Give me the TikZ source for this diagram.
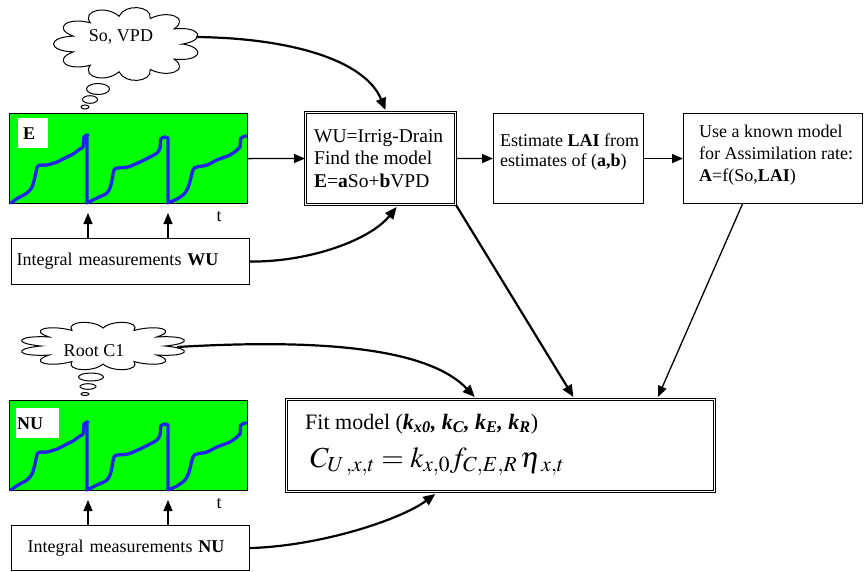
\documentclass[tikz,border=0pt]{standalone}
\usepackage{mathptmx}
\usepackage{fontspec}
\setmainfont{Liberation Serif}
\usetikzlibrary{arrows.meta,calc}
\definecolor{sigblue}{RGB}{35,35,235}
\newcommand\drawcloud[6]{% cx cy a b n bulge
  \pgfmathsetmacro\cstep{360/#5}
  \draw[line width=1pt,fill=white] ({#1+#3},{#2})
  \foreach \k in {1,...,#5}{
    .. controls ({#1+#6*#3*cos((\k-0.8)*\cstep)},{#2+#6*#4*sin((\k-0.8)*\cstep)}) and ({#1+#6*#3*cos((\k-0.2)*\cstep)},{#2+#6*#4*sin((\k-0.2)*\cstep)}) .. ({#1+#3*cos(\k*\cstep)},{#2+#4*sin(\k*\cstep)})
  } -- cycle;}
\begin{document}
\begin{tikzpicture}[x=1pt,y=-1pt,
  font=\fontsize{18}{21}\selectfont,
  box/.style={draw=black, line width=1.1pt, inner sep=0pt, anchor=north west},
  dbox/.style={draw=black, line width=1pt, double=white, double distance=1.6pt, inner sep=0pt, anchor=north west},
  chart/.style={draw=black, line width=1.2pt, fill=green, inner sep=0pt, minimum width=238pt, minimum height=90pt, anchor=north west},
  txt/.style={inner sep=0pt, align=left, anchor=north west},
  arr/.style={-{Triangle[length=11pt,width=9pt]}, line width=1.3pt},
  bigarr/.style={-{Triangle[length=12pt,width=10pt]}, line width=2.2pt},
  bubble/.style={line width=1pt},
  signal/.style={draw=sigblue, line width=3.3pt, line join=round, line cap=round},
  sig/.pic={
    \draw[signal] plot[smooth,tension=0.5] coordinates {(2,90) (9,85) (18,80) (23,74) (26,64) (29,53) (38,52) (48,49) (58,44) (64,41) (71,36) (74,34) (75,24) (79,22)}
      -- (78,22) -- (78,90)
      -- plot[smooth,tension=0.5] coordinates {(80,89) (88,85) (98,80) (102,72) (105,57) (109,55) (119,54) (131,49) (141,44) (148,40) (151,35) (152,26) (156,24) (159,25)}
      -- (159,90)
      -- plot[smooth,tension=0.5] coordinates {(161,89) (168,86) (176,80) (180,72) (184,57) (188,54) (198,52) (208,47) (221,42) (228,37) (231,34) (232,25) (237,23)};
  },
]
\useasboundingbox (0,0) rectangle (864,571);

% ---- upper chain ----
\drawcloud{127}{44}{56}{28}{11}{1.45}
\coordinate (cl1e) at (196,37);
\node[anchor=base, inner sep=0pt] (cl1txt) at (121,41) {So, VPD};
\draw[bubble] (98,89) ellipse [x radius=11.5, y radius=5.5];
\draw[bubble] (90,99.5) ellipse [x radius=7.5, y radius=3.8];
\draw[bubble] (85,107) ellipse [x radius=4, y radius=2];

\node[chart] (chE) at (9,113) {};
\pic at (9,113) {sig};
\node[fill=white, anchor=north west, minimum width=30pt, minimum height=30pt, inner xsep=5pt, inner ysep=0pt, text width=20pt, align=left, font=\bfseries\fontsize{18}{21}\selectfont] (elab) at (18,118) {E};
\node[inner sep=0pt] (t1) at (219,217) {t};

\node[box, minimum width=238pt, minimum height=46pt, text width=228pt, inner xsep=5pt, align=left] (wu) at (11,238) {Integral measurements \textbf{WU}};
\coordinate (upE1) at (88,213);
\coordinate (upE2) at (168,213);
\draw[arr] (upE1 |- wu.north) -- (upE1);
\draw[arr] (upE2 |- wu.north) -- (upE2);

\node[dbox, minimum width=150pt, minimum height=92pt] (mid) at (305,112) {};
\node[txt, font=\fontsize{19.5}{22.5}\selectfont] (midtxt) at (314,129) {WU=Irrig-Drain\\Find the model\\\textbf{E}=\textbf{a}So+\textbf{b}VPD};

\node[box, minimum width=150pt, minimum height=90pt] (est) at (493,113) {};
\node[txt, font=\fontsize{18}{20}\selectfont] (esttxt) at (500,134) {Estimate \textbf{LAI} from\\estimates of (\textbf{a,b})};

\node[box, minimum width=179pt, minimum height=90pt] (use) at (683,113) {};
\node[txt, font=\fontsize{18}{22}\selectfont] (usetxt) at (699,125) {Use a known model\\for Assimilation rate:\\\textbf{A}=f(So,\textbf{LAI})};

\draw[arr] (chE.east) -- (mid.west);
\draw[arr] (mid.east) -- (est.west);
\draw[arr] (est.east) -- (use.west);
\draw[bigarr] (cl1e) .. controls (290,38) and (365,60) .. ([yshift=2pt]$(mid.north west)!0.533!(mid.north east)$);
\draw[bigarr] (wu.east) .. controls (310,262) and (370,240) .. ([yshift=-2pt]$(mid.south west)!0.607!(mid.south east)$);

% ---- lower chain ----
\drawcloud{103}{346}{62}{18}{12}{1.5}
\coordinate (cl2e) at (177,347);
\node[anchor=base, inner sep=0pt] (cl2txt) at (94,356) {Root C1};
\draw[bubble] (91,377) ellipse [x radius=12.5, y radius=4];
\draw[bubble] (88,386.5) ellipse [x radius=8, y radius=2.8];
\draw[bubble] (85,394) ellipse [x radius=4, y radius=1.5];

\node[chart] (chN) at (9,400) {};
\pic at (9,400) {sig};
\node[fill=white, anchor=north west, minimum width=43pt, minimum height=30pt, inner xsep=1pt, inner ysep=0pt, text width=41pt, align=left, font=\bfseries\fontsize{18}{21}\selectfont] (nulab) at (16,408) {NU};
\node[inner sep=0pt] (t2) at (219,504) {t};

\node[box, minimum width=238pt, minimum height=45pt, text width=206pt, inner xsep=16pt, align=left] (nu) at (11,525) {Integral measurements \textbf{NU}};
\coordinate (upN1) at (88,500);
\coordinate (upN2) at (168,500);
\draw[arr] (upN1 |- nu.north) -- (upN1);
\draw[arr] (upN2 |- nu.north) -- (upN2);

\node[dbox, minimum width=428pt, minimum height=92pt] (fit) at (286,399) {};
\node[anchor=base west, inner sep=0pt, font=\fontsize{22}{26}\selectfont] (fit1) at (305,429) {Fit model (\textbf{\textit{k\textsubscript{x0}}}\textbf{\textit{, k\textsubscript{C}}}\textbf{\textit{, k\textsubscript{E}}}\textbf{\textit{, k\textsubscript{R}}})};
\node[anchor=base west, inner sep=0pt, font=\fontsize{29}{33}\selectfont] (fit2) at (310,467) {$C_{U\,,x,t}=k_{x,0}f_{C,E,R}\,\eta_{\mkern3mu x,t}$};

\draw[bigarr] (cl2e) .. controls (330,338) and (430,350) .. ([yshift=2pt]$(fit.north west)!0.44!(fit.north east)$);
\draw[bigarr] (nu.east) .. controls (320,546) and (400,520) .. ([yshift=-2pt]$(fit.south west)!0.348!(fit.south east)$);
\draw[bigarr] (mid.south east) -- ([yshift=2pt]$(fit.north west)!0.67!(fit.north east)$);
\draw[arr] ($(use.south west)!0.33!(use.south east)$) -- ([yshift=2pt]$(fit.north west)!0.867!(fit.north east)$);
\end{tikzpicture}
\end{document}
